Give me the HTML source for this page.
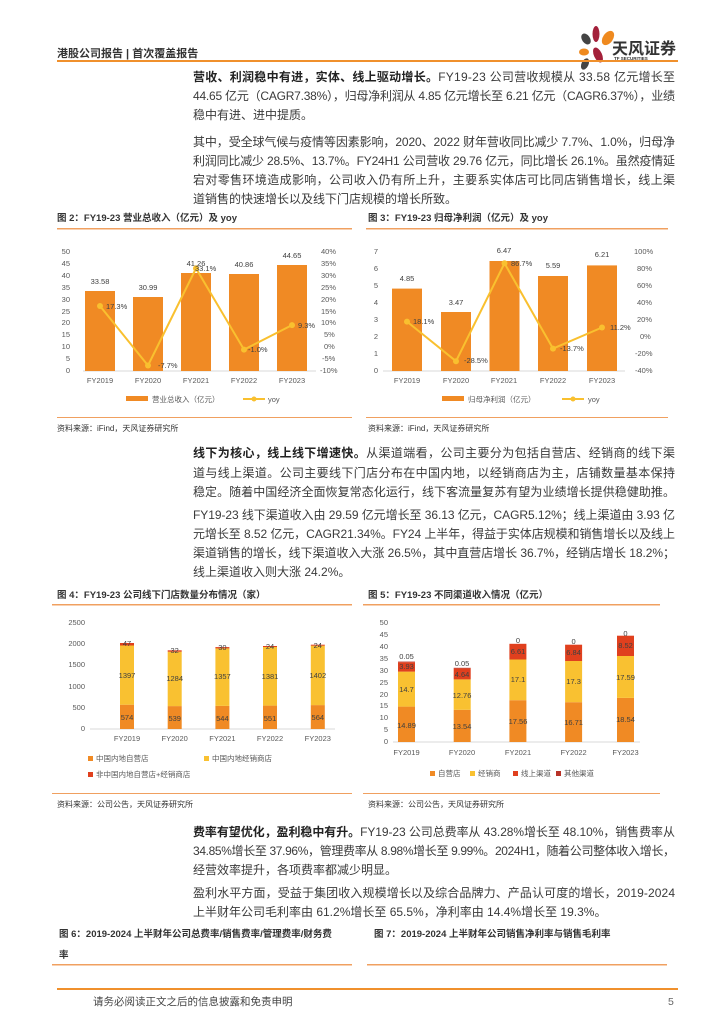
<!DOCTYPE html>
<html><head><meta charset="utf-8"><style>
html,body{margin:0;padding:0;background:#fff;}
svg{display:block;font-family:"Liberation Sans","Noto Sans CJK SC",sans-serif;}
.b{font-size:12px;fill:#3a3a3a;}
.bb{font-weight:bold;fill:#222;}
.t{font-size:9.5px;font-weight:bold;fill:#333;}
.ax{font-size:7.5px;fill:#595959;}
.dl{font-size:7.5px;fill:#404040;}
.src{font-size:8px;fill:#333;}
</style></head><body>
<svg width="724" height="1024" viewBox="0 0 724 1024" xmlns="http://www.w3.org/2000/svg">
<!-- header -->
<text x="57" y="57" style="font-size:11px;font-weight:bold;fill:#333">港股公司报告 | 首次覆盖报告</text>
<g>
<ellipse cx="586" cy="39" rx="4" ry="6" fill="#444" transform="rotate(-35 586 39)"/>
<ellipse cx="596" cy="34" rx="3.5" ry="8" fill="#a3203a"/>
<ellipse cx="608" cy="38" rx="5" ry="8" fill="#ef8a1f" transform="rotate(35 608 38)"/>
<ellipse cx="584" cy="52" rx="5" ry="3.5" fill="#ef8a1f"/>
<ellipse cx="598" cy="55" rx="4" ry="8" fill="#a3203a" transform="rotate(-25 598 55)"/>
<ellipse cx="585" cy="64" rx="3.5" ry="6" fill="#444" transform="rotate(25 585 64)"/>
<text x="612" y="54" style="font-size:16px;font-weight:bold;fill:#333">天风证券</text>
<text x="614" y="60" style="font-size:4.5px;font-weight:bold;fill:#333">TF SECURITIES</text>
</g>
<rect x="57" y="60" width="621" height="2" fill="#f0902c"/>

<!-- para 1 -->
<text class="b" x="193" y="81" textLength="482" lengthAdjust="spacing"><tspan class="bb">营收、利润稳中有进，实体、线上驱动增长。</tspan>FY19-23 公司营收规模从 33.58 亿元增长至</text>
<text class="b" x="193" y="100" textLength="482" lengthAdjust="spacing">44.65 亿元（CAGR7.38%），归母净利润从 4.85 亿元增长至 6.21 亿元（CAGR6.37%），业绩</text>
<text class="b" x="193" y="119">稳中有进、进中提质。</text>
<text class="b" x="193" y="146" textLength="482" lengthAdjust="spacing">其中，受全球气候与疫情等因素影响，2020、2022 财年营收同比减少 7.7%、1.0%，归母净</text>
<text class="b" x="193" y="165" textLength="482" lengthAdjust="spacing">利润同比减少 28.5%、13.7%。FY24H1 公司营收 29.76 亿元，同比增长 26.1%。虽然疫情延</text>
<text class="b" x="193" y="184" textLength="482" lengthAdjust="spacing">宕对零售环境造成影响，公司收入仍有所上升，主要系实体店可比同店销售增长，线上渠</text>
<text class="b" x="193" y="203">道销售的快速增长以及线下门店规模的增长所致。</text>

<!-- fig 2 -->
<text class="t" x="57" y="221">图 2：FY19-23 营业总收入（亿元）及 yoy</text>
<rect x="57" y="228" width="295" height="1.5" fill="#f0a060"/>
<g class="ax" text-anchor="end">
<text x="70" y="373">0</text><text x="70" y="361">5</text><text x="70" y="349">10</text><text x="70" y="337">15</text><text x="70" y="325">20</text><text x="70" y="314">25</text><text x="70" y="302">30</text><text x="70" y="290">35</text><text x="70" y="278">40</text><text x="70" y="266">45</text><text x="70" y="254">50</text>
</g>
<g class="ax">
<text x="320" y="373">-10%</text><text x="322" y="361">-5%</text><text x="324" y="349">0%</text><text x="324" y="337">5%</text><text x="321" y="325">10%</text><text x="321" y="314">15%</text><text x="321" y="302">20%</text><text x="321" y="290">25%</text><text x="321" y="278">30%</text><text x="321" y="266">35%</text><text x="321" y="254">40%</text>
</g>
<line x1="83" y1="371" x2="316" y2="371" stroke="#d9d9d9"/>
<g fill="#f08a24">
<rect x="85" y="291" width="30" height="80"/><rect x="133" y="297" width="30" height="74"/><rect x="181" y="273" width="30" height="98"/><rect x="229" y="274" width="30" height="97"/><rect x="277" y="265" width="30" height="106"/>
</g>
<g class="dl" text-anchor="middle">
<text x="100" y="284">33.58</text><text x="148" y="290">30.99</text><text x="196" y="266">41.26</text><text x="244" y="267">40.86</text><text x="292" y="258">44.65</text>
</g>
<polyline points="100,306 148,365.5 196,268.4 244,349.6 292,325.1" fill="none" stroke="#f9c02f" stroke-width="2"/>
<g fill="#f9c02f"><circle cx="100" cy="306" r="3"/><circle cx="148" cy="365.5" r="3"/><circle cx="196" cy="268.4" r="3"/><circle cx="244" cy="349.6" r="3"/><circle cx="292" cy="325.1" r="3"/></g>
<g class="dl">
<text x="106" y="309">17.3%</text><text x="158" y="368">-7.7%</text><text x="195" y="271">33.1%</text><text x="248" y="352">-1.0%</text><text x="298" y="328">9.3%</text>
</g>
<g class="ax" text-anchor="middle">
<text x="100" y="383">FY2019</text><text x="148" y="383">FY2020</text><text x="196" y="383">FY2021</text><text x="244" y="383">FY2022</text><text x="292" y="383">FY2023</text>
</g>
<rect x="126" y="396" width="22" height="5" fill="#f08a24"/><text class="ax" x="152" y="402">营业总收入（亿元）</text>
<line x1="243" y1="399" x2="265" y2="399" stroke="#f9c02f" stroke-width="2"/><circle cx="254" cy="399" r="2.5" fill="#f9c02f"/><text class="ax" x="268" y="402">yoy</text>
<rect x="57" y="417" width="295" height="1" fill="#f0a060"/>
<text class="src" x="57" y="431">资料来源：iFind，天风证券研究所</text>

<!-- fig 3 -->
<text class="t" x="368" y="221">图 3：FY19-23 归母净利润（亿元）及 yoy</text>
<rect x="366" y="228" width="302" height="1.5" fill="#f0a060"/>
<g class="ax" text-anchor="end">
<text x="378" y="373">0</text><text x="378" y="356">1</text><text x="378" y="339">2</text><text x="378" y="322">3</text><text x="378" y="305">4</text><text x="378" y="288">5</text><text x="378" y="271">6</text><text x="378" y="254">7</text>
</g>
<g class="ax">
<text x="635" y="373">-40%</text><text x="635" y="356">-20%</text><text x="640" y="339">0%</text><text x="637" y="322">20%</text><text x="637" y="305">40%</text><text x="637" y="288">60%</text><text x="637" y="271">80%</text><text x="634" y="254">100%</text>
</g>
<line x1="383" y1="371" x2="625" y2="371" stroke="#d9d9d9"/>
<g fill="#f08a24">
<rect x="392" y="288.6" width="30" height="82.4"/><rect x="441" y="312" width="30" height="59"/><rect x="489.5" y="261" width="30" height="110"/><rect x="538" y="276" width="30" height="95"/><rect x="587" y="265.4" width="30" height="105.6"/>
</g>
<g class="dl" text-anchor="middle">
<text x="407" y="281">4.85</text><text x="456" y="305">3.47</text><text x="504" y="253">6.47</text><text x="553" y="268">5.59</text><text x="602" y="257">6.21</text>
</g>
<polyline points="407,321.6 456,361.2 504.5,263.3 553,348.6 602,327.5" fill="none" stroke="#f9c02f" stroke-width="2"/>
<g fill="#f9c02f"><circle cx="407" cy="321.6" r="3"/><circle cx="456" cy="361.2" r="3"/><circle cx="504.5" cy="263.3" r="3"/><circle cx="553" cy="348.6" r="3"/><circle cx="602" cy="327.5" r="3"/></g>
<g class="dl">
<text x="413" y="324">18.1%</text><text x="464" y="363">-28.5%</text><text x="511" y="266">86.7%</text><text x="560" y="351">-13.7%</text><text x="610" y="330">11.2%</text>
</g>
<g class="ax" text-anchor="middle">
<text x="407" y="383">FY2019</text><text x="456" y="383">FY2020</text><text x="504" y="383">FY2021</text><text x="553" y="383">FY2022</text><text x="602" y="383">FY2023</text>
</g>
<rect x="442" y="396" width="22" height="5" fill="#f08a24"/><text class="ax" x="468" y="402">归母净利润（亿元）</text>
<line x1="562" y1="399" x2="584" y2="399" stroke="#f9c02f" stroke-width="2"/><circle cx="573" cy="399" r="2.5" fill="#f9c02f"/><text class="ax" x="588" y="402">yoy</text>
<rect x="366" y="417" width="302" height="1" fill="#f0a060"/>
<text class="src" x="368" y="431">资料来源：iFind，天风证券研究所</text>

<!-- para 3 -->
<text class="b" x="193" y="457" textLength="482" lengthAdjust="spacing"><tspan class="bb">线下为核心，线上线下增速快。</tspan>从渠道端看，公司主要分为包括自营店、经销商的线下渠</text>
<text class="b" x="193" y="477" textLength="482" lengthAdjust="spacing">道与线上渠道。公司主要线下门店分布在中国内地，以经销商店为主，店铺数量基本保持</text>
<text class="b" x="193" y="496" textLength="482" lengthAdjust="spacing">稳定。随着中国经济全面恢复常态化运行，线下客流量复苏有望为业绩增长提供稳健助推。</text>
<text class="b" x="193" y="519" textLength="482" lengthAdjust="spacing">FY19-23 线下渠道收入由 29.59 亿元增长至 36.13 亿元，CAGR5.12%；线上渠道由 3.93 亿</text>
<text class="b" x="193" y="538" textLength="482" lengthAdjust="spacing">元增长至 8.52 亿元，CAGR21.34%。FY24 上半年，得益于实体店规模和销售增长以及线上</text>
<text class="b" x="193" y="557" textLength="482" lengthAdjust="spacing">渠道销售的增长，线下渠道收入大涨 26.5%，其中直营店增长 36.7%，经销店增长 18.2%；</text>
<text class="b" x="193" y="576">线上渠道收入则大涨 24.2%。</text>

<!-- fig 4 -->
<text class="t" x="57" y="598">图 4：FY19-23 公司线下门店数量分布情况（家）</text>
<rect x="52" y="604" width="300" height="1.5" fill="#f0a060"/>
<g class="ax" text-anchor="end">
<text x="85" y="731">0</text><text x="85" y="710">500</text><text x="85" y="689">1000</text><text x="85" y="667">1500</text><text x="85" y="646">2000</text><text x="85" y="625">2500</text>
</g>
<line x1="90" y1="729" x2="335" y2="729" stroke="#d9d9d9"/>
<g>
<rect x="120" y="704.7" width="14" height="24.3" fill="#f08a24"/><rect x="120" y="645.5" width="14" height="59.2" fill="#f9c131"/><rect x="120" y="643" width="14" height="2.5" fill="#e0401e"/>
<rect x="167.7" y="706.1" width="14" height="22.9" fill="#f08a24"/><rect x="167.7" y="651.7" width="14" height="54.4" fill="#f9c131"/><rect x="167.7" y="650.3" width="14" height="1.4" fill="#e0401e"/>
<rect x="215.4" y="705.9" width="14" height="23.1" fill="#f08a24"/><rect x="215.4" y="648.4" width="14" height="57.5" fill="#f9c131"/><rect x="215.4" y="647.1" width="14" height="1.3" fill="#e0401e"/>
<rect x="263" y="705.6" width="14" height="23.4" fill="#f08a24"/><rect x="263" y="647" width="14" height="58.6" fill="#f9c131"/><rect x="263" y="646" width="14" height="1" fill="#e0401e"/>
<rect x="310.8" y="705.1" width="14" height="23.9" fill="#f08a24"/><rect x="310.8" y="645.7" width="14" height="59.4" fill="#f9c131"/><rect x="310.8" y="644.7" width="14" height="1" fill="#e0401e"/>
</g>
<g class="dl" text-anchor="middle">
<text x="127" y="720">574</text><text x="127" y="678">1397</text><text x="127" y="646">47</text>
<text x="174.7" y="721">539</text><text x="174.7" y="681">1284</text><text x="174.7" y="653">32</text>
<text x="222.4" y="721">544</text><text x="222.4" y="679">1357</text><text x="222.4" y="650">30</text>
<text x="270" y="721">551</text><text x="270" y="679">1381</text><text x="270" y="649">24</text>
<text x="317.8" y="720">564</text><text x="317.8" y="678">1402</text><text x="317.8" y="648">24</text>
</g>
<g class="ax" text-anchor="middle">
<text x="127" y="741">FY2019</text><text x="174.7" y="741">FY2020</text><text x="222.4" y="741">FY2021</text><text x="270" y="741">FY2022</text><text x="317.8" y="741">FY2023</text>
</g>
<rect x="88" y="756" width="5" height="5" fill="#f08a24"/><text class="ax" x="96" y="761">中国内地自营店</text>
<rect x="204" y="756" width="5" height="5" fill="#f9c131"/><text class="ax" x="212" y="761">中国内地经销商店</text>
<rect x="88" y="772" width="5" height="5" fill="#e0401e"/><text class="ax" x="96" y="777">非中国内地自营店+经销商店</text>
<rect x="52" y="793" width="300" height="1" fill="#f0a060"/>
<text class="src" x="57" y="807">资料来源：公司公告，天风证券研究所</text>

<!-- fig 5 -->
<text class="t" x="368" y="598">图 5：FY19-23 不同渠道收入情况（亿元）</text>
<rect x="363" y="604" width="297" height="1.5" fill="#f0a060"/>
<g class="ax" text-anchor="end">
<text x="388" y="744">0</text><text x="388" y="732">5</text><text x="388" y="720">10</text><text x="388" y="708">15</text><text x="388" y="697">20</text><text x="388" y="685">25</text><text x="388" y="673">30</text><text x="388" y="661">35</text><text x="388" y="649">40</text><text x="388" y="637">45</text><text x="388" y="625">50</text>
</g>
<line x1="393" y1="742" x2="640" y2="742" stroke="#d9d9d9"/>
<g>
<rect x="398" y="706.6" width="17" height="35.4" fill="#f08a24"/><rect x="398" y="671.6" width="17" height="35" fill="#f9c131"/><rect x="398" y="662.2" width="17" height="9.4" fill="#e0401e"/><rect x="398" y="661.6" width="17" height="0.6" fill="#b83228"/>
<rect x="453.7" y="709.8" width="17" height="32.2" fill="#f08a24"/><rect x="453.7" y="679.4" width="17" height="30.4" fill="#f9c131"/><rect x="453.7" y="668.4" width="17" height="11" fill="#e0401e"/><rect x="453.7" y="667.8" width="17" height="0.6" fill="#b83228"/>
<rect x="509.4" y="700.2" width="17" height="41.8" fill="#f08a24"/><rect x="509.4" y="659.5" width="17" height="40.7" fill="#f9c131"/><rect x="509.4" y="643.8" width="17" height="15.7" fill="#e0401e"/>
<rect x="565.1" y="702.2" width="17" height="39.8" fill="#f08a24"/><rect x="565.1" y="661" width="17" height="41.2" fill="#f9c131"/><rect x="565.1" y="644.7" width="17" height="16.3" fill="#e0401e"/>
<rect x="617" y="697.9" width="17" height="44.1" fill="#f08a24"/><rect x="617" y="656" width="17" height="41.9" fill="#f9c131"/><rect x="617" y="635.7" width="17" height="20.3" fill="#e0401e"/>
</g>
<g class="dl" text-anchor="middle">
<text x="406.5" y="728">14.89</text><text x="406.5" y="692">14.7</text><text x="406.5" y="669">3.93</text><text x="406.5" y="659">0.05</text>
<text x="462" y="729">13.54</text><text x="462" y="698">12.76</text><text x="462" y="677">4.64</text><text x="462" y="666">0.05</text>
<text x="518" y="724">17.56</text><text x="518" y="682">17.1</text><text x="518" y="654">6.61</text><text x="518" y="643">0</text>
<text x="573.6" y="725">16.71</text><text x="573.6" y="684">17.3</text><text x="573.6" y="655">6.84</text><text x="573.6" y="644">0</text>
<text x="625.5" y="722">18.54</text><text x="625.5" y="680">17.59</text><text x="625.5" y="648">8.52</text><text x="625.5" y="636">0</text>
</g>
<g class="ax" text-anchor="middle">
<text x="406.5" y="755">FY2019</text><text x="462" y="755">FY2020</text><text x="518" y="755">FY2021</text><text x="573.6" y="755">FY2022</text><text x="625.5" y="755">FY2023</text>
</g>
<rect x="430" y="771" width="5" height="5" fill="#f08a24"/><text class="ax" x="438" y="776">自营店</text>
<rect x="470" y="771" width="5" height="5" fill="#f9c131"/><text class="ax" x="478" y="776">经销商</text>
<rect x="513" y="771" width="5" height="5" fill="#e0401e"/><text class="ax" x="521" y="776">线上渠道</text>
<rect x="556" y="771" width="5" height="5" fill="#b83228"/><text class="ax" x="564" y="776">其他渠道</text>
<rect x="363" y="793" width="297" height="1" fill="#f0a060"/>
<text class="src" x="368" y="807">资料来源：公司公告，天风证券研究所</text>

<!-- para 5 -->
<text class="b" x="193" y="836" textLength="482" lengthAdjust="spacing"><tspan class="bb">费率有望优化，盈利稳中有升。</tspan>FY19-23 公司总费率从 43.28%增长至 48.10%，销售费率从</text>
<text class="b" x="193" y="855" textLength="482" lengthAdjust="spacing">34.85%增长至 37.96%，管理费率从 8.98%增长至 9.99%。2024H1，随着公司整体收入增长，</text>
<text class="b" x="193" y="874">经营效率提升，各项费率都减少明显。</text>
<text class="b" x="193" y="897" textLength="482" lengthAdjust="spacing">盈利水平方面，受益于集团收入规模增长以及综合品牌力、产品认可度的增长，2019-2024</text>
<text class="b" x="193" y="916">上半财年公司毛利率由 61.2%增长至 65.5%，净利率由 14.4%增长至 19.3%。</text>

<!-- fig 6/7 titles -->
<text class="t" x="59" y="937">图 6：2019-2024 上半财年公司总费率/销售费率/管理费率/财务费</text>
<text class="t" x="59" y="958">率</text>
<rect x="52" y="964" width="300" height="1.5" fill="#f0a060"/>
<text class="t" x="374" y="937">图 7：2019-2024 上半财年公司销售净利率与销售毛利率</text>
<rect x="367" y="964" width="300" height="1.5" fill="#f0a060"/>

<!-- footer -->
<rect x="57" y="988" width="621" height="2" fill="#f0902c"/>
<text x="93" y="1005" style="font-size:10.5px;fill:#444">请务必阅读正文之后的信息披露和免责申明</text>
<text x="668" y="1005" style="font-size:10.5px;fill:#666">5</text>
</svg>
</body></html>
